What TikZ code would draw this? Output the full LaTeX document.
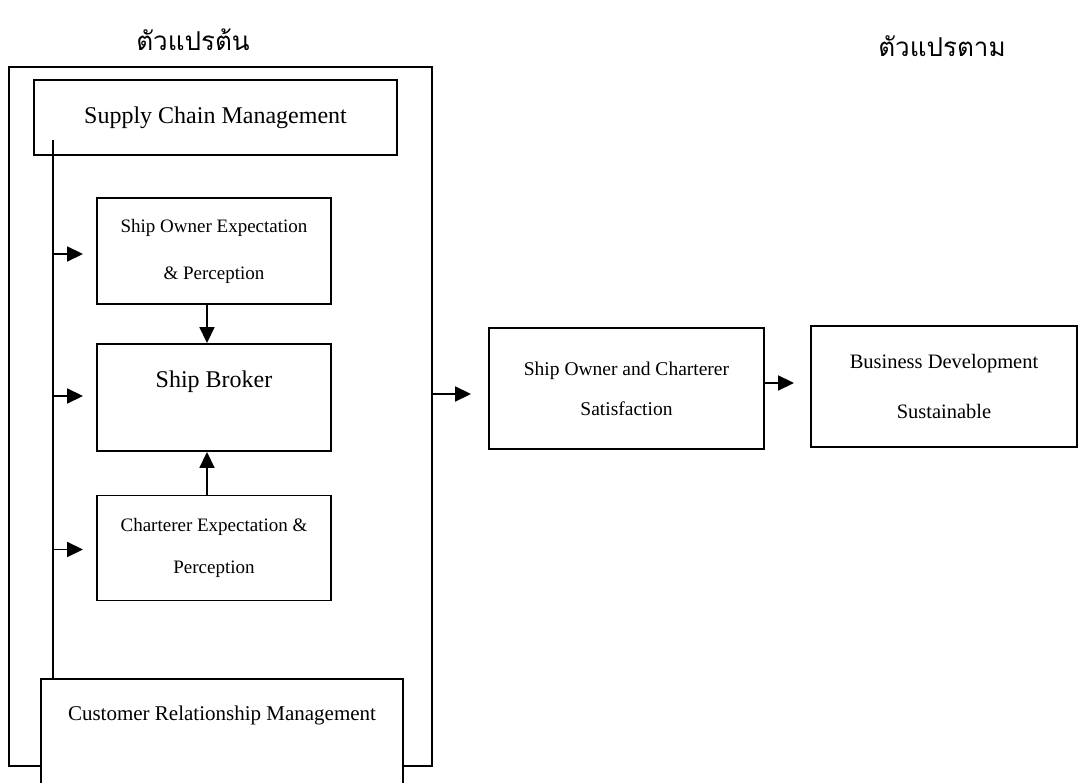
\documentclass[tikz,border=0pt]{standalone}
\usepackage{fontspec}
\setmainfont{Liberation Serif}
\newfontfamily\thaifont[Script=Thai]{Loma}
\usetikzlibrary{arrows.meta,calc}
\tikzset{
  boxnode/.style={draw=black, line width=1.9pt, fill=white, inner sep=0pt, align=center},
  arr/.style={line width=1.8pt, -{Triangle[length=16pt,width=15pt]}},
  ln/.style={line width=1.8pt},
  thai/.style={font=\thaifont\fontsize{26}{30}\selectfont}
}
\begin{document}
\begin{tikzpicture}[x=1pt,y=-1pt]
\clip (0,0) rectangle (1080,783);
\fill[white] (0,0) rectangle (1080,783);

% headings
\node[thai] (hin) at (193,40) {ตัวแปรต้น};
\node[thai] (hout) at (942,46) {ตัวแปรตาม};

% outer frame
\node[boxnode, fill=none, minimum width=423pt, minimum height=699pt] (outer) at (220.5,416.5) {};

% supply chain
\node[boxnode, minimum width=363pt, minimum height=75pt, font=\fontsize{24}{28}\selectfont] (scm) at (215.5,117.5) {Supply Chain Management};

% inner boxes
\node[boxnode, minimum width=234pt, minimum height=106pt, font=\fontsize{19}{47}\selectfont] (soe) at (214,251) {Ship Owner Expectation\\ \& Perception};
\node[boxnode, minimum width=234pt, minimum height=107pt] (sb) at (214,397.5) {};
\node[font=\fontsize{24}{28}\selectfont] (sbt) at (214,382) {Ship Broker};
\node[boxnode, minimum width=234pt, minimum height=105pt, font=\fontsize{19}{42}\selectfont] (ce) at (214,548) {Charterer Expectation \&\\ Perception};

% CRM (bottom runs off the page)
\node[boxnode, minimum width=362pt, minimum height=140pt] (crm) at (222,749) {};
\node[font=\fontsize{21}{25}\selectfont] (crmt) at (222,715) {Customer Relationship Management};

% vertical spine
\coordinate (top) at (53,140);
\draw[ln] (top) -- (top |- crm.north);

% arrows from spine
\draw[arr, shorten >=13pt] ([yshift=-3pt]top |- soe.west) -- ([yshift=-3pt]soe.west);
\draw[arr, shorten >=13pt] ([yshift=1.5pt]top |- sb.west) -- ([yshift=1.5pt]sb.west);
\draw[arr, shorten >=13pt] ([yshift=-1.5pt]top |- ce.west) -- ([yshift=-1.5pt]ce.west);

% vertical arrows to broker
\draw[arr] ([xshift=-7pt]soe.south) -- ([xshift=-7pt]sb.north);
\draw[arr] ([xshift=-7pt]ce.north) -- ([xshift=-7pt]sb.south);

% right side
\node[boxnode, minimum width=275pt, minimum height=121pt, font=\fontsize{19.5}{40}\selectfont] (sat) at (626.5,388.5) {Ship Owner and Charterer\\ Satisfaction};
\node[boxnode, minimum width=266pt, minimum height=121pt, font=\fontsize{20.5}{50}\selectfont] (bd) at (944,386.5) {Business Development\\ Sustainable};

\draw[arr, shorten >=17pt] ([yshift=-5.5pt]outer.east |- sat.west) -- ([yshift=-5.5pt]sat.west);
\draw[arr, shorten >=16pt] ([yshift=5.5pt]sat.east) -- ([yshift=5.5pt]sat.east -| bd.west);
\end{tikzpicture}
\end{document}
